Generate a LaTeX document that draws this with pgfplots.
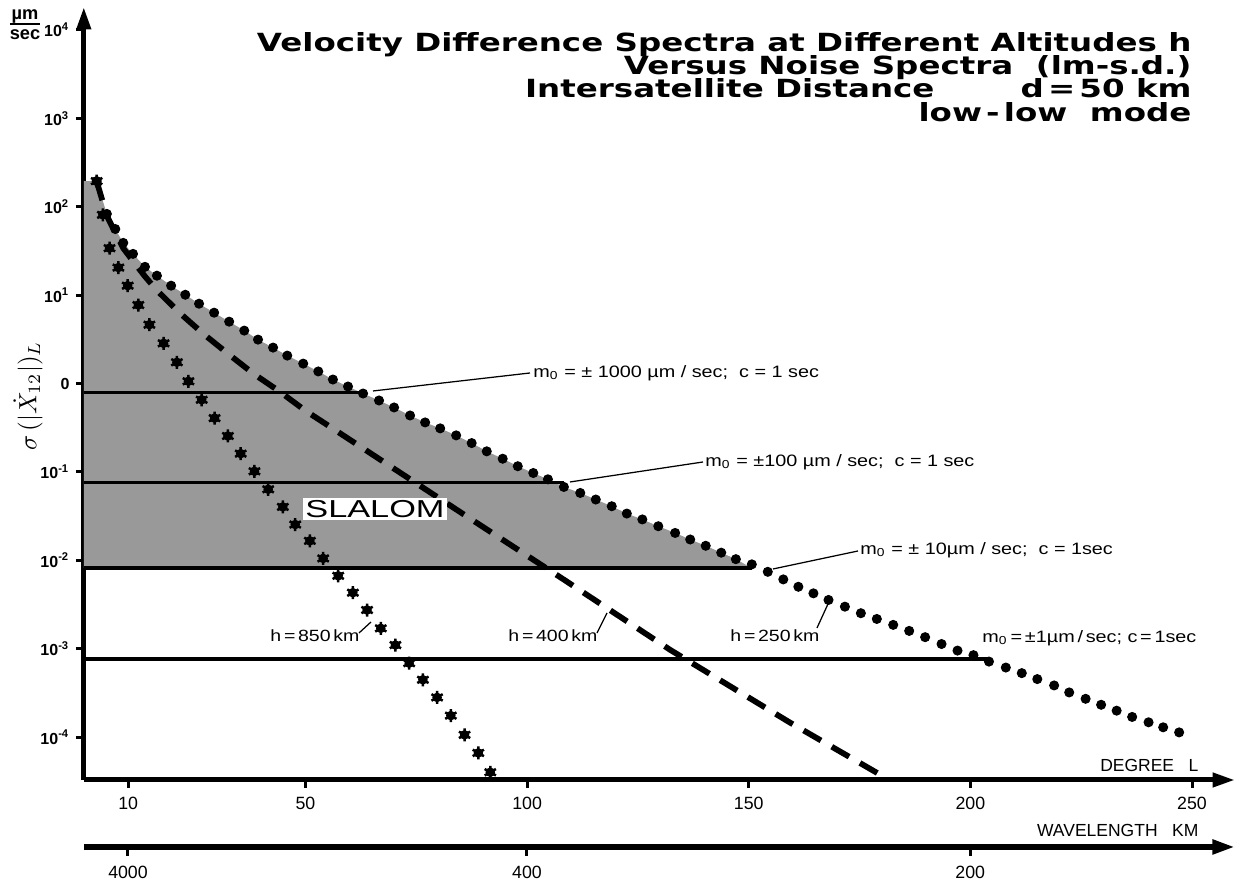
\documentclass[border=0pt]{standalone}
\usepackage{fontspec}
\setmainfont{Liberation Sans}
\newfontfamily\titlefont[FakeStretch=1.3]{DejaVu Sans}
\newfontfamily\labfont[FakeStretch=1.2]{Liberation Sans}
\newfontfamily\slafont[FakeStretch=1.4]{Liberation Sans}
\usepackage{pgfplots}
\pgfplotsset{compat=1.18}
\usepackage{pgfplotstable}
\usetikzlibrary{arrows.meta}

% h = 250 km (upper dotted curve)
\pgfplotstableread{
L v
2.9 195
5.2 83
7.1 56
8.9 39
11.1 29.3
13.8 20.9
16.5 16.6
19.7 12.8
22.9 10.1
26.0 8.0
29.4 6.33
32.8 5.01
36.2 3.97
39.3 3.14
42.7 2.55
45.9 2.07
49.5 1.68
52.9 1.37
56.2 1.11
59.6 0.925
63.0 0.771
66.6 0.643
70.0 0.536
73.6 0.435
77.0 0.363
80.4 0.311
84.0 0.259
87.5 0.212
90.9 0.171
94.5 0.141
97.9 0.116
101.4 0.0972
104.7 0.0825
108.3 0.0676
112.0 0.0578
115.5 0.0487
119.1 0.0409
122.5 0.0338
126.0 0.0290
129.6 0.0243
133.4 0.0204
136.8 0.0172
140.3 0.0146
143.8 0.0122
147.1 0.0103
150.7 0.0090
154.3 0.00741
157.8 0.00608
161.2 0.00502
164.6 0.00423
168.0 0.00356
171.7 0.00299
175.3 0.00252
178.9 0.00217
182.6 0.00186
186.2 0.00159
189.8 0.00135
193.5 0.00113
197.1 0.000952
200.7 0.000845
204.2 0.000715
208.0 0.000612
211.6 0.000529
215.1 0.000453
218.9 0.000384
222.3 0.000320
226.0 0.000271
229.5 0.000232
233.0 0.000199
236.5 0.000169
240.2 0.000147
243.5 0.000129
247.1 0.000113
}\hlow

% SLALOM shaded area: under h=250 km curve, above m0 = 10 line
\pgfplotstableread{
L v
0 0.00816
0 195
2.9 195
5.2 83
7.1 56
8.9 39
11.1 29.3
13.8 20.9
16.5 16.6
19.7 12.8
22.9 10.1
26.0 8.0
29.4 6.33
32.8 5.01
36.2 3.97
39.3 3.14
42.7 2.55
45.9 2.07
49.5 1.68
52.9 1.37
56.2 1.11
59.6 0.925
63.0 0.771
66.6 0.643
70.0 0.536
73.6 0.435
77.0 0.363
80.4 0.311
84.0 0.259
87.5 0.212
90.9 0.171
94.5 0.141
97.9 0.116
101.4 0.0972
104.7 0.0825
108.3 0.0676
112.0 0.0578
115.5 0.0487
119.1 0.0409
122.5 0.0338
126.0 0.0290
129.6 0.0243
133.4 0.0204
136.8 0.0172
140.3 0.0146
143.8 0.0122
147.1 0.0103
150.7 0.00816
}\slalom

% h = 400 km (dashed)
\pgfplotstableread{
L v
2.9 195
5.2 79
7.1 51
8.9 34
11.1 24.3
13.8 16.3
16.5 11.3
21.9 6.12
27.0 3.64
32.6 2.16
38.3 1.29
44.4 0.798
49.9 0.496
55.7 0.321
86.7 0.0307
108.1 0.00614
132.3 0.000969
159.3 0.000146
180.8 0.0000348
}\hmid

% h = 850 km (asterisks)
\pgfplotstableread{
L v
2.9 195
4.3 81
5.8 34.0
7.8 20.5
9.9 12.8
12.3 7.73
14.8 4.63
18.0 2.85
21.0 1.74
23.6 1.06
26.6 0.655
29.5 0.406
32.5 0.255
35.4 0.161
38.5 0.1016
41.6 0.0636
44.9 0.0402
47.7 0.0254
51.0 0.0166
54.0 0.0105
57.4 0.00668
60.7 0.00430
63.9 0.00274
67.0 0.00170
70.3 0.00110
73.4 0.000686
76.5 0.000445
79.7 0.000281
82.8 0.000175
85.9 0.000106
89.0 0.0000662
91.7 0.0000400
}\hhigh

\begin{document}
\begin{tikzpicture}
\useasboundingbox (0,0) rectangle (496pt,352.8pt);
\begin{axis}[
  at={(33.52pt,40.8pt)}, anchor=south west,
  scale only axis, width=460.48pt, height=309.2pt,
  xmin=0, xmax=259.7,
  ymode=log, ymin=3.27e-5, ymax=1.82e4,
  axis lines=left,
  axis line style={line width=2pt, -{Triangle[length=9pt,width=5.5pt]}},
  xtick={10,50,100,150,200,250},
  xticklabels={10,50,100,150,200,250},
  ytick={1e-4,1e-3,1e-2,1e-1,1,1e1,1e2,1e3,1e4},
  yticklabels={10\textsuperscript{-4},10\textsuperscript{-3},10\textsuperscript{-2},10\textsuperscript{-1},0\hspace{7pt},10\textsuperscript{1},10\textsuperscript{2},10\textsuperscript{3},10\textsuperscript{4}},
  yminorticks=false, xminorticks=false,
  tick align=outside, major tick length=3.2pt,
  every tick/.style={black, line width=1.2pt},
  xticklabel style={font=\fontsize{7.1}{8}\selectfont},
  yticklabel style={font=\bfseries\fontsize{6.4}{7}\selectfont, xshift=1pt},
  clip=false,
]
\addplot[fill=black!40, draw=none] table {\slalom};
\addplot[line width=1.4pt] coordinates {(0,0.791) (63.0,0.791)};
\addplot[line width=1.4pt] coordinates {(0,0.0763) (108.3,0.0763)};
\addplot[line width=1.3pt] coordinates {(0,0.00816) (150.7,0.00816)};
\addplot[line width=1.3pt] coordinates {(0,0.000767) (204.0,0.000767)};
\addplot[line width=2.3pt, dash pattern=on 8pt off 5pt] table {\hmid};
\addplot[only marks, mark=*, mark size=1.8pt, mark options={fill=black}] table {\hlow};
\addplot[only marks, mark=*, mark size=1.7pt, mark options={fill=black}] table {\hhigh};
\addplot[only marks, mark=asterisk, mark size=2.6pt, mark options={line width=1pt}] table {\hhigh};
\end{axis}
\begin{scope}[x=0.4pt, y=-0.4pt, shift={(0pt,352.8pt)}]
  % title
  \begin{scope}[every node/.style={anchor=base east, inner sep=0pt, font=\titlefont\bfseries\fontsize{10}{12}\selectfont}]
    \node at (1192,52) {Velocity Difference Spectra at Different Altitudes h};
    \node at (1192,75) {Versus Noise Spectra\ \ (lm-s.d.)};
    \node at (935,98) {Intersatellite Distance};
    \node at (1192,98) {d\,=\,50 km};
    \node at (1192,122) {low\,-\,low\ \ mode};
  \end{scope}
  % unit
  \draw[line width=0.8pt] (10,24) -- (40,24);
  \node[anchor=base, inner sep=0pt, font=\bfseries\fontsize{7.3}{8}\selectfont] at (25,20) {µm};
  \node[anchor=base, inner sep=0pt, font=\bfseries\fontsize{7.3}{8}\selectfont] at (25,40) {sec};
  % y label
  \node[rotate=90, font=\fontsize{10}{11}\selectfont] at (28,396) {$\sigma\,(|\dot{X}_{12}|)_L$};
  % SLALOM
  \node[fill=white, inner sep=1pt, font=\slafont\fontsize{9.8}{10}\selectfont] at (375,509) {SLALOM};
  % noise labels and leaders
  \begin{scope}[every node/.style={anchor=west, inner sep=0pt, font=\labfont\fontsize{6.6}{7}\selectfont}]
    \draw[line width=0.5pt] (373,391) -- (530,373);
    \node at (533,373) {m\textsubscript{0} = ± 1000 µm / sec;\ \ c = 1 sec};
    \draw[line width=0.5pt] (570,482) -- (703,462);
    \node at (705,462) {m\textsubscript{0} = ±100 µm / sec;\ \ c = 1 sec};
    \draw[line width=0.5pt] (773,569) -- (858,551);
    \node at (860,550) {m\textsubscript{0} = ± 10µm / sec;\ \ c = 1sec};
    \node at (982,638) {m\textsubscript{0}\,=\,±1µm\,/\,sec; c\,=\,1sec};
  \end{scope}
  % altitude labels
  \begin{scope}[every node/.style={anchor=base west, inner sep=0pt, font=\labfont\fontsize{6.5}{7}\selectfont}]
    \node at (270,642) {h\,=\,850\,km};
    \draw[line width=0.5pt] (359,633) -- (371,622);
    \node at (508,642) {h\,=\,400\,km};
    \draw[line width=0.5pt] (597,633) -- (607,613);
    \node at (730,642) {h\,=\,250\,km};
    \draw[line width=0.5pt] (817,628) -- (828,604);
  \end{scope}
  % axis names
  \node[anchor=east, inner sep=0pt, font=\fontsize{7}{8}\selectfont] at (1199,765) {DEGREE\ \ \ L};
  \node[anchor=east, inner sep=0pt, font=\fontsize{7}{8}\selectfont] at (1199,830) {WAVELENGTH\ \ \ KM};
  % wavelength axis
  \draw[line width=2.2pt, -{Triangle[length=9pt,width=5.5pt]}] (83.8,847) -- (1235,847);
  \foreach \xx/\lab in {128/4000, 527/400, 970.3/200} {
    \draw[line width=1.2pt] (\xx,847) -- (\xx,856);
    \node[font=\fontsize{7.1}{8}\selectfont, inner sep=0pt] at (\xx,872) {\lab};
  }
\end{scope}
\end{tikzpicture}
\end{document}
